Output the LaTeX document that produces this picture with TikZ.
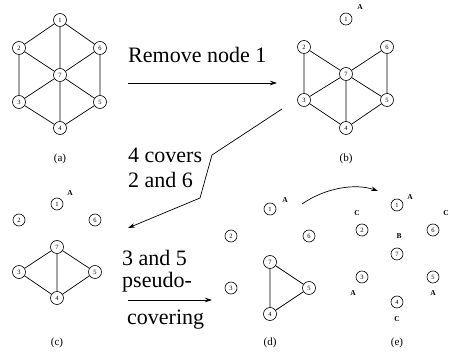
\documentclass[tikz,border=0pt]{standalone}
\usepackage{fontspec}
\setmainfont{Liberation Serif}
\usetikzlibrary{arrows.meta}
\begin{document}
\begin{tikzpicture}[x=1pt,y=-1pt,
  vtx/.style={circle,draw,line width=0.6pt,minimum size=13pt,inner sep=0pt,font=\fontsize{6.5}{7}\selectfont},
  svtx/.style={vtx,minimum size=12pt},
  edge/.style={line width=0.7pt},
  subcap/.style={font=\fontsize{11}{12}\selectfont,inner sep=0pt},
  lbl/.style={font=\fontsize{7.5}{8}\selectfont\bfseries,inner sep=0pt},
  big/.style={font=\fontsize{22}{22}\selectfont,anchor=base west,inner sep=0pt},
  arr/.style={line width=0.7pt,-{Stealth[length=7pt,width=4.5pt]}}
]
\useasboundingbox (0,0) rectangle (450,355);
% (a)
\node[vtx] (a1) at (60,20) {1};
\node[vtx] (a2) at (19,48) {2};
\node[vtx] (a6) at (100,48) {6};
\node[vtx] (a7) at (60,75) {7};
\node[vtx] (a3) at (19,102) {3};
\node[vtx] (a5) at (100,102) {5};
\node[vtx] (a4) at (60,128) {4};
\draw[edge] (a1)--(a2) (a1)--(a6) (a1)--(a7) (a2)--(a3) (a2)--(a7) (a6)--(a7)
  (a6)--(a5) (a7)--(a3) (a7)--(a4) (a7)--(a5) (a3)--(a4) (a4)--(a5);
\node[subcap] (capa) at (60,159) {(a)};
% arrow 1
\node[big] (t1) at (128,63) {Remove node 1};
\coordinate (r1s) at (128,83);
\coordinate (r1e) at (277,83);
\draw[arr] (r1s) -- (r1e);
% (b)
\node[svtx] (b1) at (346,19) {1};
\node[lbl] (bA) at (360,7) {A};
\node[vtx] (b2) at (304,47) {2};
\node[vtx] (b6) at (387,47) {6};
\node[vtx] (b7) at (346,74) {7};
\node[vtx] (b3) at (304,100) {3};
\node[vtx] (b5) at (387,100) {5};
\node[vtx] (b4) at (346,128) {4};
\draw[edge] (b2)--(b3) (b2)--(b7) (b6)--(b7) (b6)--(b5) (b7)--(b3) (b7)--(b4)
  (b7)--(b5) (b3)--(b4) (b4)--(b5);
\node[subcap] (capb) at (346,159) {(b)};
% arrow 2
\node[big] (t2) at (128,163) {4 covers};
\node[big] (t3) at (128,188) {2 and 6};
\coordinate (p0) at (282,109);
\coordinate (p1) at (212,155);
\coordinate (p2) at (200,198);
\coordinate (p3) at (128,228);
\draw[arr] (p0) -- (p1) -- (p2) -- (p3);
% (c)
\node[svtx] (c1) at (57,204) {1};
\node[lbl] (cA) at (70,193) {A};
\node[svtx] (c2) at (19,220) {2};
\node[svtx] (c6) at (95,220) {6};
\node[vtx] (c7) at (57,247) {7};
\node[vtx] (c3) at (19,272) {3};
\node[vtx] (c5) at (95,272) {5};
\node[vtx] (c4) at (57,298) {4};
\draw[edge] (c7)--(c3) (c7)--(c4) (c7)--(c5) (c3)--(c4) (c4)--(c5);
\node[subcap] (capc) at (57,343) {(c)};
% arrow 3
\node[big] (t4) at (122,266) {3 and 5};
\node[big] (t5) at (122,288) {pseudo-};
\node[big] (t6) at (127,325) {covering};
\coordinate (q0) at (128,300);
\coordinate (q1) at (212,300);
\draw[arr] (q0) -- (q1);
% (d)
\node[svtx] (d1) at (270,209) {1};
\node[lbl] (dA) at (285,200) {A};
\node[svtx] (d2) at (231,236) {2};
\node[svtx] (d6) at (309,236) {6};
\node[vtx] (d7) at (270,262) {7};
\node[svtx] (d3) at (231,288) {3};
\node[vtx] (d5) at (309,288) {5};
\node[vtx] (d4) at (270,314) {4};
\draw[edge] (d7)--(d4) (d7)--(d5) (d4)--(d5);
\node[subcap] (capd) at (270,343) {(d)};
% curved arrow
\coordinate (cs) at (302,204);
\coordinate (ce) at (378,191);
\draw[arr] (cs) .. controls (325,188) and (355,183) .. (ce);
% (e)
\node[svtx] (e1) at (397,205) {1};
\node[lbl] (eA1) at (410,197) {A};
\node[svtx] (e2) at (362,230) {2};
\node[lbl] (eC1) at (357,213) {C};
\node[svtx] (e6) at (433,230) {6};
\node[lbl] (eC2) at (446,213) {C};
\node[lbl] (eB) at (399,236) {B};
\node[svtx] (e7) at (397,254) {7};
\node[svtx] (e3) at (362,277) {3};
\node[lbl] (eA2) at (353,293) {A};
\node[svtx] (e5) at (433,277) {5};
\node[lbl] (eA3) at (433,293) {A};
\node[svtx] (e4) at (397,302) {4};
\node[lbl] (eC3) at (397,319) {C};
\node[subcap] (cape) at (397,343) {(e)};
\end{tikzpicture}
\end{document}
